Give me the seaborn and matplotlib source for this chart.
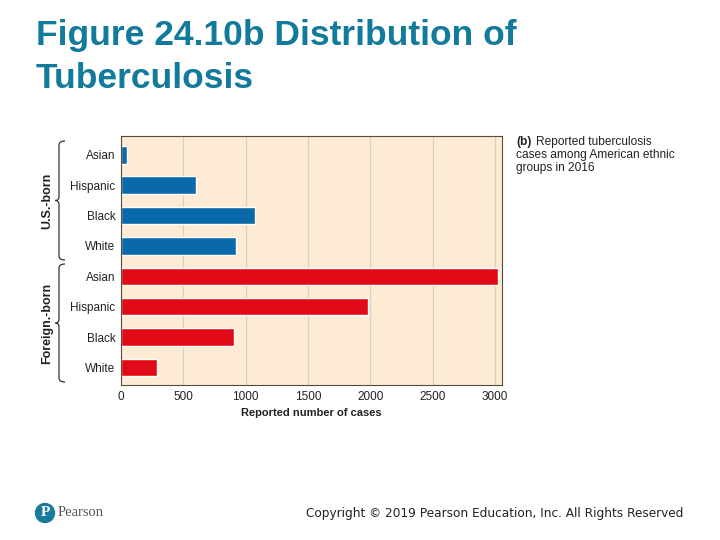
import numpy as np
import pandas as pd
import matplotlib.pyplot as plt
import seaborn as sns
from matplotlib.path import Path
from matplotlib.patches import PathPatch, Circle

# data (reported TB cases, 2016)
groups = ["U.S.-born"] * 4 + ["Foreign.-born"] * 4
ethnicity = ["Asian", "Hispanic", "Black", "White", "Asian", "Hispanic", "Black", "White"]
cases = [45, 603, 1072, 919, 3027, 1983, 903, 289]
x_ticks = [0, 500, 1000, 1500, 2000, 2500, 3000]

df = pd.DataFrame({"group": groups, "ethnicity": ethnicity, "cases": cases})
df["row"] = [f"{g} {e}" for g, e in zip(df["group"], df["ethnicity"])]

sns.set_style("white")
plt.rcParams["font.family"] = ["Liberation Sans", "DejaVu Sans"]

fig = plt.figure(figsize=(7.2, 5.4), dpi=100)
ax = fig.add_axes([0.168, 0.287, 0.529, 0.461])
ax.set_facecolor("#fdebd4")

sns.barplot(data=df, y="row", x="cases", hue="group", orient="h",
            palette={"U.S.-born": "#0a69a8", "Foreign.-born": "#e10b17"},
            width=0.58, dodge=False, legend=False, saturation=1, ax=ax)

ax.set_xlim(0, 3055)
ax.set_ylim(7.58, -0.62)
ax.set_xticks(x_ticks)
ax.set_xticklabels([str(t) for t in x_ticks], fontsize=8.5, color="#222222")
ax.set_yticks(range(len(df)))
ax.set_yticklabels(df["ethnicity"], fontsize=8.5, color="#222222")
ax.tick_params(length=0, pad=4)
ax.set_ylabel("")
ax.set_xlabel("Reported number of cases", fontsize=8, fontweight="bold",
              color="#222222", labelpad=4)
ax.xaxis.grid(True, color="#d8d0c4", linewidth=0.9)
ax.set_axisbelow(True)
for s in ax.spines.values():
    s.set_color("#5a4a3c")
    s.set_linewidth(0.8)


def px(x, y):
    # figure pixel (from top-left) to figure fraction
    return x / 720, 1 - y / 540


def brace(x, y0, y1, w=6):
    ym = (y0 + y1) / 2
    pts = [(x + w, y0), (x, y0), (x, y0 + 4), (x, ym - 4),
           (x, ym), (x - w * 0.6, ym), (x - w * 0.6, ym),
           (x, ym), (x, ym + 4), (x, y1 - 4),
           (x, y1), (x + w, y1), (x + w, y1)]
    pts = [px(a, b) for a, b in pts]
    codes = [Path.MOVETO,
             Path.CURVE3, Path.CURVE3, Path.LINETO,
             Path.CURVE3, Path.CURVE3, Path.MOVETO,
             Path.CURVE3, Path.CURVE3, Path.LINETO,
             Path.CURVE3, Path.CURVE3, Path.LINETO]
    fig.add_artist(PathPatch(Path(pts, codes), fill=False, lw=0.9,
                             edgecolor="#333333", transform=fig.transFigure))


brace(59, 141, 260)
brace(59, 264, 382)
fig.text(*px(47, 201), "U.S.-born", rotation=90, ha="center", va="center",
         fontsize=9, fontweight="bold", color="#222222")
fig.text(*px(47, 323), "Foreign.-born", rotation=90, ha="center", va="center",
         fontsize=9, fontweight="bold", color="#222222")

# title
fig.text(*px(36, 45), "Figure 24.10b Distribution of", ha="left",
         va="baseline", fontsize=25.5, fontweight="bold", color="#127a9b")
fig.text(*px(36, 88), "Tuberculosis", ha="left",
         va="baseline", fontsize=25.5, fontweight="bold", color="#127a9b")

# side note
fig.text(*px(516, 142), "(b)", ha="left", va="center", fontsize=8.6,
         fontweight="bold", color="#222222")
fig.text(*px(536, 142), "Reported tuberculosis", ha="left", va="center",
         fontsize=8.6, color="#222222")
fig.text(*px(516, 155), "cases among American ethnic", ha="left",
         va="center", fontsize=8.6, color="#222222")
fig.text(*px(516, 168), "groups in 2016", ha="left",
         va="center", fontsize=8.6, color="#222222")

# footer
fig.add_artist(Circle((0.45, 0.27), 0.095, transform=fig.dpi_scale_trans,
                      color="#1a7a9c"))
fig.text(*px(45, 513), "P", ha="center", va="center", fontsize=11,
         fontweight="bold", color="white", family="Liberation Serif")
fig.text(*px(58, 513), "Pearson", ha="left", va="center", fontsize=10.5,
         color="#555555", family="Liberation Serif")
fig.text(*px(683, 513), "Copyright \u00a9 2019 Pearson Education, Inc. All Rights Reserved",
         ha="right", va="center", fontsize=8.75, color="#222222",
         family="DejaVu Sans")

fig.savefig("out.png", dpi=100)
